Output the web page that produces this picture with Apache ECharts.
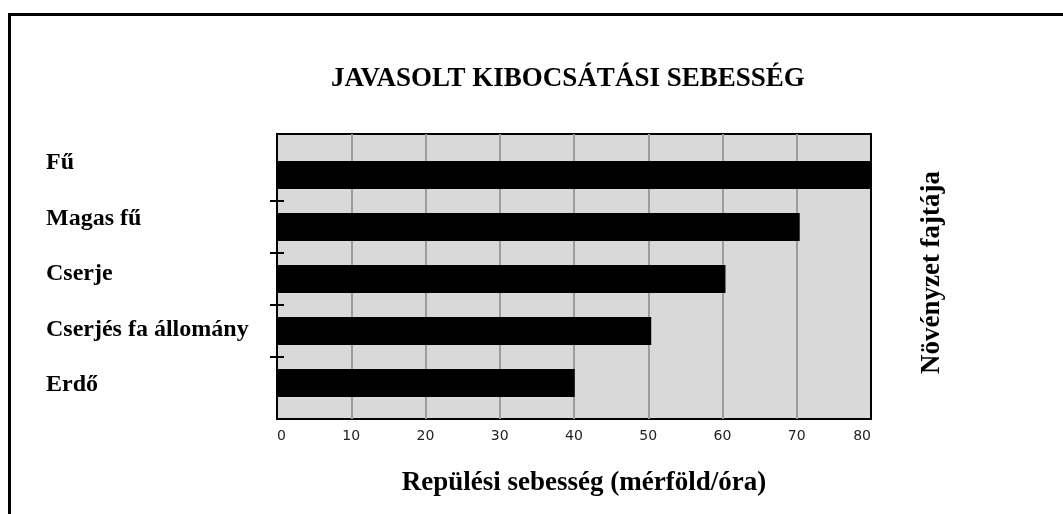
<!DOCTYPE html>
<html>
<head>
<meta charset="utf-8">
<title>Javasolt kibocsátási sebesség</title>
<script src="https://cdn.jsdelivr.net/npm/echarts@6/dist/echarts.min.js"></script>
<style>
  html, body { margin: 0; padding: 0; background: #fff; }
  #chart { width: 1063px; height: 514px; }
</style>
</head>
<body>
<div id="chart"></div>
<script>
// Növényzet típusok (felülről lefelé) és a javasolt repülési sebesség
const categories = ['Fű', 'Magas fű', 'Cserje', 'Cserjés fa állomány', 'Erdő'];
const speeds = [80, 70.4, 60.4, 50.4, 40.1];
const xTicks = [0, 10, 20, 30, 40, 50, 60, 70, 80];

// a bal oldali kis jelölők a sávok határain vannak
const bandEdges = categories.concat(['']).map((_, i) => String(i));

const SERIF = '"Liberation Serif", "Times New Roman", serif';
const SANS = '"DejaVu Sans", Verdana, sans-serif';

const chart = echarts.init(document.getElementById('chart'));

const option = {
  animation: false,
  backgroundColor: '#fff',
  title: {
    text: 'JAVASOLT KIBOCSÁTÁSI SEBESSÉG',
    left: 331,
    top: 66,
    padding: 0,
    textStyle: {
      fontFamily: SERIF,
      fontWeight: 'bold',
      fontSize: 27,
      color: '#000'
    }
  },
  graphic: [
    {
      type: 'rect',
      silent: true,
      shape: { x: 9.5, y: 14.5, width: 1100, height: 600 },
      style: { fill: 'none', stroke: '#000', lineWidth: 3 }
    }
  ],
  grid: [
    // háttér, rácsvonalak, x tengely
    {
      left: 277, right: 192, top: 134, bottom: 95,
      show: true,
      backgroundColor: '#d9d9d9',
      borderColor: '#000',
      borderWidth: 2
    },
    // oszlopok
    { left: 277, right: 192, top: 149, bottom: 105 },
    // kategória feliratok
    { left: 277, right: 192, top: 135.5, bottom: 101.5 }
  ],
  xAxis: [
    {
      gridIndex: 0,
      type: 'value',
      min: xTicks[0],
      max: xTicks[xTicks.length - 1],
      interval: 10,
      axisLine: { show: false },
      axisTick: { show: false },
      splitLine: {
        show: true,
        showMinLine: false,
        showMaxLine: false,
        lineStyle: { color: '#9c9c9c', width: 2 }
      },
      axisLabel: {
        margin: 10,
        fontFamily: SANS,
        fontSize: 14,
        color: '#222',
        alignMinLabel: 'left',
        alignMaxLabel: 'right'
      },
      name: 'Repülési sebesség (mérföld/óra)',
      nameLocation: 'middle',
      nameGap: 51,
      nameTextStyle: {
        fontFamily: SERIF,
        fontWeight: 'bold',
        fontSize: 27,
        color: '#000',
        padding: [0, 0, 0, 20]
      }
    },
    { gridIndex: 1, type: 'value', min: 0, max: 80, show: false },
    { gridIndex: 2, type: 'value', min: 0, max: 80, show: false }
  ],
  yAxis: [
    {
      gridIndex: 0,
      type: 'value',
      position: 'right',
      min: 0,
      max: 1,
      axisLine: { show: false },
      axisTick: { show: false },
      axisLabel: { show: false },
      splitLine: { show: false },
      name: 'Növényzet fajtája',
      nameLocation: 'middle',
      nameRotate: 90,
      nameGap: 48,
      nameTextStyle: {
        fontFamily: SERIF,
        fontWeight: 'bold',
        fontSize: 27,
        color: '#000',
        padding: [0, 0, 0, 8]
      }
    },
    {
      gridIndex: 1,
      type: 'category',
      inverse: true,
      data: categories,
      axisLine: { show: false },
      axisTick: { show: false },
      axisLabel: { show: false }
    },
    {
      gridIndex: 1,
      type: 'category',
      position: 'left',
      boundaryGap: false,
      data: bandEdges,
      offset: -7,
      axisLine: { show: false },
      axisTick: {
        length: 14,
        interval: (index) => index > 0 && index < bandEdges.length - 1,
        lineStyle: { color: '#000', width: 2 }
      },
      axisLabel: { show: false }
    },
    {
      gridIndex: 2,
      type: 'category',
      inverse: true,
      data: categories,
      axisLine: { show: false },
      axisTick: { show: false },
      axisLabel: {
        align: 'left',
        margin: 231,
        fontFamily: SERIF,
        fontWeight: 'bold',
        fontSize: 24,
        color: '#000'
      }
    }
  ],
  series: [
    {
      name: 'Sebesség',
      type: 'bar',
      xAxisIndex: 1,
      yAxisIndex: 1,
      data: speeds,
      barWidth: 28,
      itemStyle: { color: '#000' }
    }
  ]
};

chart.setOption(option);
</script>
</body>
</html>
